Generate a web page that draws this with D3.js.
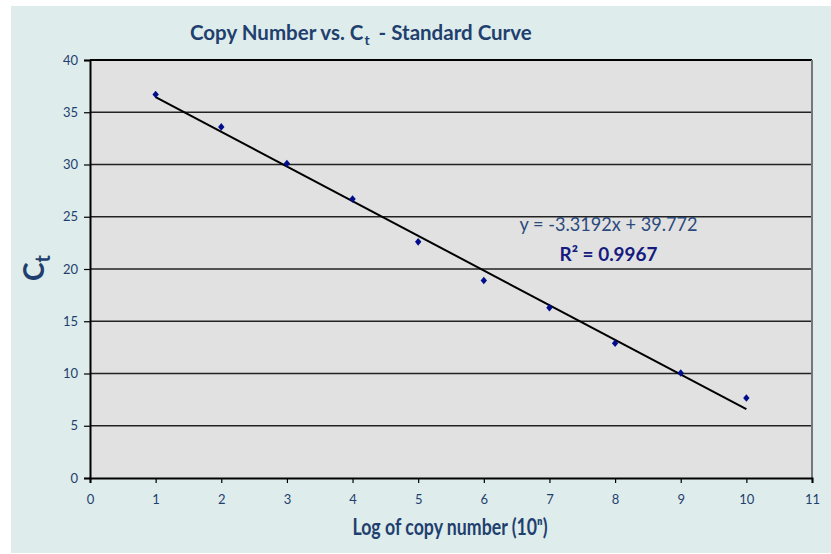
<!DOCTYPE html>
<html>
<head>
<meta charset="utf-8">
<script src="https://cdn.jsdelivr.net/npm/d3@7"></script>
<style>
  body { margin: 0; background: #fff; }
  svg { display: block; font-family: "Lato", "Open Sans", sans-serif; }
</style>
</head>
<body>
<svg id="chart" width="831" height="554"></svg>
<script>
// data
const logCopies = [1, 2, 3, 4, 5, 6, 7, 8, 9, 10];
const ctValues = [36.7, 33.6, 30.1, 26.7, 22.6, 18.9, 16.3, 12.9, 10.05, 7.65];
const xTicks = [0, 1, 2, 3, 4, 5, 6, 7, 8, 9, 10, 11];
const yTicks = [0, 5, 10, 15, 20, 25, 30, 35, 40];
const fitSlope = -3.3192;
const fitIntercept = 39.772;
const fitR2 = 0.9967;

const svg = d3.select("#chart");
const width = 831, height = 554;
const margin = { top: 60, right: 19, bottom: 76, left: 90 };
const innerW = width - margin.left - margin.right;
const innerH = height - margin.top - margin.bottom;

const navy = "#1f3f6e";

// chart background
svg.append("rect")
  .attr("x", 11).attr("y", 6)
  .attr("width", width - 11).attr("height", height - 7)
  .attr("fill", "#deeceb");

const x = d3.scaleLinear().domain([0, 11]).range([0, innerW]);
const y = d3.scaleLinear().domain([0, 40]).range([innerH, 0]);

const g = svg.append("g").attr("transform", `translate(${margin.left},${margin.top})`);

// plot area
g.append("rect")
  .attr("width", innerW).attr("height", innerH)
  .attr("fill", "#e1e1e1");

// gridlines
g.selectAll(".grid")
  .data(yTicks.filter(d => d > 0))
  .join("line")
    .attr("class", "grid")
    .attr("x1", 0).attr("x2", innerW)
    .attr("y1", d => y(d)).attr("y2", d => y(d))
    .attr("stroke", d => d === 40 ? "#000" : "#222")
    .attr("stroke-width", d => d === 40 ? 2 : 1.3);

// right border
g.append("line")
  .attr("x1", innerW).attr("x2", innerW)
  .attr("y1", 0).attr("y2", innerH)
  .attr("stroke", "#777").attr("stroke-width", 2);

// axes
const xAxis = g.append("g")
  .attr("transform", `translate(0,${innerH})`)
  .call(d3.axisBottom(x).tickValues(xTicks).tickSize(5).tickPadding(12).tickFormat(d3.format("d")));
const yAxis = g.append("g")
  .call(d3.axisLeft(y).tickValues(yTicks).tickSize(6).tickPadding(6).tickFormat(d3.format("d")));

[xAxis, yAxis].forEach(ax => {
  ax.select(".domain").attr("stroke", "#000").attr("stroke-width", 2);
  ax.selectAll(".tick line").attr("stroke", "#000").attr("stroke-width", 1.2);
  ax.selectAll(".tick text")
    .attr("fill", navy)
    .style("font-size", "13px")
    .style("font-family", "Lato, sans-serif");
});

// trend line
const fit = d => fitIntercept + fitSlope * d;
const xExt = d3.extent(logCopies);
g.append("line")
  .attr("x1", x(xExt[0])).attr("y1", y(fit(xExt[0])))
  .attr("x2", x(xExt[1])).attr("y2", y(fit(xExt[1])))
  .attr("stroke", "#000").attr("stroke-width", 2);

// points (small plump diamonds)
g.selectAll(".pt")
  .data(logCopies.map((d, i) => [d, ctValues[i]]))
  .join("path")
    .attr("class", "pt")
    .attr("transform", d => `translate(${x(d[0])},${y(d[1])})`)
    .attr("d", "M0,-3.8L3.2,0L0,3.8L-3.2,0Z")
    .attr("fill", "#000e8c");

// equation labels
g.append("text")
  .attr("x", x(7.9)).attr("y", y(23.6))
  .attr("text-anchor", "middle")
  .attr("fill", "#2a4a7c")
  .style("font-size", "19px")
  .attr("textLength", 178)
  .attr("lengthAdjust", "spacingAndGlyphs")
  .text(`y = ${fitSlope}x + ${fitIntercept}`);

g.append("text")
  .attr("x", x(7.9)).attr("y", y(20.8))
  .attr("text-anchor", "middle")
  .attr("fill", "#141a80")
  .style("font-size", "19px")
  .style("font-weight", "bold")
  .attr("textLength", 98)
  .attr("lengthAdjust", "spacingAndGlyphs")
  .text(`R² = ${fitR2}`);

// title (three pieces, each placed after the previous one's measured width)
const title = svg.append("g").attr("fill", navy).style("font-weight", "bold");
const t1 = title.append("text")
  .attr("x", 190).attr("y", 40)
  .style("font-size", "20.5px")
  .text("Copy Number vs. C");
const t1End = 190 + t1.node().getComputedTextLength();
const t2 = title.append("text")
  .attr("x", t1End + 1).attr("y", 45)
  .style("font-size", "14px")
  .text("t");
const t2End = t1End + 1 + t2.node().getComputedTextLength();
title.append("text")
  .attr("x", t2End + 9).attr("y", 40)
  .style("font-size", "20.5px")
  .text("-  Standard Curve");

// y axis label
svg.append("text")
  .attr("transform", "translate(44,268) rotate(-90)")
  .attr("text-anchor", "middle")
  .attr("fill", navy)
  .style("font-size", "28px")
  .style("font-weight", "bold")
  .html('C<tspan dy="6" font-size="20">t</tspan>');

// x axis label
svg.append("text")
  .attr("x", 450).attr("y", 535)
  .attr("text-anchor", "middle")
  .attr("fill", navy)
  .style("font-size", "22px")
  .style("font-weight", "bold")
  .attr("textLength", 195)
  .attr("lengthAdjust", "spacingAndGlyphs")
  .text("Log of copy number (10ⁿ)");
</script>
</body>
</html>
